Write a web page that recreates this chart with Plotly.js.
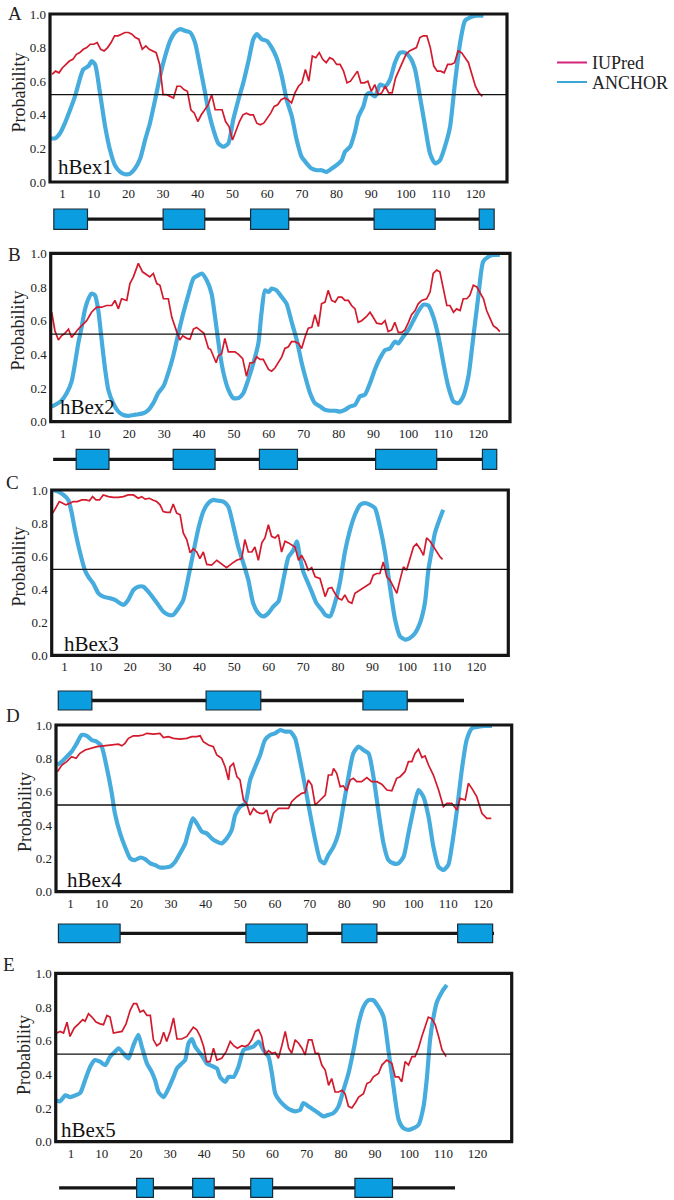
<!DOCTYPE html>
<html><head><meta charset="utf-8">
<script src="https://cdn.plot.ly/plotly-3.0.1.min.js"></script>
<style>html,body{margin:0;padding:0;background:#fff}#chart{width:674px;height:1200px}</style>
</head><body><div id="chart"></div>
<script>
// ---------------- data ----------------
const proteins = ['hBex1','hBex2','hBex3','hBex4','hBex5'];
const panelLetters = ['A','B','C','D','E'];
const residueTicks = [1,10,20,30,40,50,60,70,80,90,100,110,120];
const probTicks = [0,0.2,0.4,0.6,0.8,1.0];
const threshold = 0.52;

// hBex1
const aIupredX = Array.from({length:125}, (_, i) => i - 2);
const aIupredY = [0.64,0.66,0.65,0.68,0.70,0.72,0.73,0.76,0.77,0.79,
 0.80,0.82,0.82,0.83,0.79,0.78,0.80,0.83,0.87,0.87,
 0.88,0.89,0.89,0.88,0.86,0.85,0.79,0.81,0.79,0.78,
 0.77,0.70,0.52,0.52,0.51,0.50,0.57,0.57,0.55,0.54,
 0.43,0.41,0.36,0.40,0.43,0.46,0.52,0.43,0.43,0.43,
 0.36,0.33,0.25,0.31,0.36,0.40,0.41,0.40,0.40,0.35,
 0.34,0.35,0.38,0.41,0.45,0.46,0.49,0.50,0.49,0.47,
 0.53,0.57,0.59,0.67,0.60,0.75,0.74,0.77,0.73,0.71,
 0.74,0.73,0.70,0.70,0.66,0.59,0.60,0.63,0.66,0.59,
 0.59,0.60,0.54,0.58,0.52,0.53,0.57,0.53,0.53,0.62,
 0.67,0.72,0.76,0.78,0.79,0.80,0.86,0.87,0.87,0.80,
 0.69,0.66,0.66,0.65,0.70,0.70,0.71,0.78,0.77,0.74,
 0.71,0.64,0.57,0.53,0.51];
const aAnchorX = [-2.6,-1.1,0.3,1.7,3.2,4.6,6.1,7.0,8.5,9.4,10.4,11.8,13.3,14.7,16.1,17.6,19.0,20.5,21.9,23.4,
 24.8,26.2,27.7,29.1,30.6,32.0,33.4,34.9,36.3,37.8,39.2,40.6,42.1,43.0,44.5,45.9,47.4,48.8,50.2,51.7,
 53.1,54.6,56.0,57.0,58.4,59.9,61.3,62.7,64.2,65.6,67.1,68.5,69.9,71.4,72.8,74.3,75.7,77.1,78.6,80.0,
 81.5,82.4,83.9,85.3,86.3,87.7,88.7,89.6,91.1,92.5,94.0,95.4,96.8,98.3,99.7,101.2,102.6,104.0,105.5,106.9,
 108.4,109.8,111.2,112.7,114.1,115.6,117.0,118.5,120.4,122.3];
const aAnchorY = [0.26,0.26,0.29,0.35,0.43,0.51,0.62,0.67,0.69,0.72,0.70,0.53,0.33,0.19,0.10,0.06,0.046,0.05,0.08,0.14,
 0.25,0.35,0.49,0.63,0.75,0.84,0.89,0.91,0.90,0.89,0.83,0.69,0.53,0.43,0.31,0.23,0.21,0.23,0.37,0.49,
 0.59,0.72,0.85,0.88,0.85,0.84,0.80,0.74,0.63,0.49,0.39,0.25,0.15,0.11,0.08,0.07,0.07,0.06,0.08,0.10,
 0.13,0.18,0.21,0.30,0.39,0.45,0.52,0.53,0.51,0.58,0.57,0.61,0.71,0.77,0.77,0.74,0.67,0.51,0.33,0.17,
 0.11,0.13,0.21,0.33,0.59,0.83,0.96,0.98,0.99,0.99];
const aExonStart = [-1.5, 30.0, 55.2, 90.8, 121.1];
const aExonEnd   = [8.2, 42.0, 66.2, 108.4, 125.4];
const aLineSpan  = [8.2, 121.1];

// hBex2
const bIupredX = [-2.2,-1.3,-0.3,0.6,1.6,2.6,3.5,4.5,5.4,6.4,
 7.8,9.2,10.7,12.1,13.5,15.0,15.9,16.9,17.8,19.3,
 20.2,21.2,22.6,23.8,25.0,25.9,26.9,27.9,28.8,29.8,
 31.2,32.2,33.6,34.5,35.3,36.5,37.4,38.4,39.3,40.3,
 41.4,42.7,43.3,44.1,44.9,45.5,46.5,47.4,48.4,49.4,
 50.3,51.3,52.5,53.6,54.6,55.6,56.5,57.5,58.4,59.9,
 60.8,61.8,62.7,63.7,64.6,65.6,66.5,67.5,68.5,69.4,
 70.4,71.3,72.3,73.2,74.2,75.1,76.1,77.0,78.0,79.0,
 79.9,80.9,81.8,82.8,83.7,84.7,85.6,86.6,88.0,89.0,
 89.9,90.9,92.3,93.3,94.2,95.2,96.1,97.1,98.1,99.0,
 100.0,100.9,101.9,102.8,103.8,105.2,106.2,107.1,108.1,109.0,
 110.0,111.0,111.9,112.9,113.8,114.8,115.7,116.7,117.6,118.6,
 119.6,120.5,121.5,122.4,123.4,124.3,125.3,126.2];
const bIupredY = [0.65,0.54,0.485,0.51,0.525,0.55,0.50,0.53,0.55,0.57,
 0.60,0.65,0.68,0.68,0.69,0.69,0.72,0.67,0.73,0.72,
 0.82,0.86,0.94,0.89,0.87,0.86,0.88,0.82,0.81,0.73,
 0.73,0.62,0.535,0.485,0.51,0.495,0.49,0.55,0.56,0.545,
 0.525,0.435,0.43,0.39,0.35,0.39,0.405,0.495,0.415,0.415,
 0.415,0.40,0.375,0.27,0.35,0.35,0.385,0.37,0.37,0.31,
 0.30,0.32,0.355,0.385,0.435,0.445,0.475,0.475,0.465,0.435,
 0.505,0.555,0.56,0.635,0.565,0.70,0.71,0.78,0.72,0.71,
 0.74,0.74,0.72,0.72,0.69,0.67,0.59,0.60,0.625,0.65,
 0.62,0.585,0.58,0.60,0.535,0.545,0.59,0.53,0.53,0.545,
 0.59,0.635,0.66,0.70,0.72,0.73,0.77,0.88,0.90,0.89,
 0.79,0.69,0.69,0.65,0.67,0.66,0.73,0.73,0.75,0.81,
 0.80,0.77,0.73,0.66,0.61,0.57,0.555,0.535];
const bAnchorX = [-2.2,-0.8,0.6,2.1,3.5,4.5,5.4,6.4,7.3,8.3,
 9.2,10.2,11.1,12.1,13.1,14.0,15.4,16.9,18.3,19.7,
 21.2,22.6,24.0,25.5,26.9,28.3,29.8,31.2,32.6,34.1,
 35.5,36.9,38.4,39.8,40.8,42.2,43.6,44.6,46.0,47.0,
 48.4,49.8,51.3,52.7,54.1,55.6,57.0,57.9,58.9,59.9,
 60.8,62.2,63.7,65.1,66.5,68.0,69.4,70.4,71.8,73.2,
 74.7,76.1,77.5,79.0,80.4,81.8,83.2,84.7,86.1,87.5,
 89.0,90.4,91.8,93.3,94.7,96.1,97.1,98.5,100.0,101.4,
 102.8,104.3,105.7,107.1,108.6,110.0,111.4,112.9,114.3,115.7,
 117.2,118.6,120.0,121.4,122.9,124.3,126.2];
const bAnchorY = [0.09,0.105,0.125,0.17,0.24,0.35,0.465,0.565,0.665,0.73,
 0.76,0.75,0.665,0.485,0.31,0.19,0.11,0.06,0.04,0.034,
 0.04,0.044,0.05,0.07,0.11,0.17,0.21,0.29,0.39,0.525,
 0.645,0.75,0.85,0.87,0.88,0.84,0.76,0.62,0.405,0.29,
 0.19,0.14,0.14,0.17,0.25,0.35,0.465,0.645,0.78,0.77,
 0.79,0.78,0.74,0.70,0.595,0.485,0.35,0.27,0.17,0.11,
 0.09,0.07,0.065,0.065,0.06,0.07,0.09,0.10,0.15,0.16,
 0.23,0.31,0.375,0.425,0.435,0.475,0.465,0.505,0.545,0.60,
 0.655,0.695,0.69,0.625,0.505,0.35,0.21,0.12,0.11,0.15,
 0.27,0.505,0.74,0.95,0.98,0.99,0.99];
const bExonStart = [4.8, 32.6, 57.3, 90.6, 121.2];
const bExonEnd   = [14.2, 44.6, 68.2, 108.1, 125.3];
const bLineSpan  = [-1.8, 125.3];

// hBex3
const cIupredX = [-2.4,-1.5,-0.5,0.5,1.4,2.6,3.5,4.7,6.0,7.2,
 8.2,9.1,10.1,11.1,12.2,13.7,15.1,16.5,18.0,19.4,
 20.9,22.3,23.3,24.3,25.5,26.5,27.6,28.6,29.5,30.5,
 31.5,32.4,33.4,34.4,35.3,36.3,37.3,38.2,39.2,40.1,
 41.1,42.1,43.5,45.0,46.4,47.8,49.3,50.7,52.2,53.1,
 54.1,55.1,56.0,57.0,58.0,58.9,59.9,60.8,61.8,62.8,
 63.7,64.7,65.7,66.6,67.6,68.6,69.5,70.5,71.4,72.4,
 73.4,74.8,76.3,77.2,78.2,79.1,80.1,81.1,82.0,83.0,
 84.0,84.9,86.4,87.8,89.3,90.2,91.2,92.1,93.1,94.1,
 95.0,96.0,97.0,97.9,98.9,99.8,100.8,101.8,102.7,103.7,
 104.7,105.6,106.6,107.6,108.5,109.5,110.2];
const cIupredY = [0.86,0.895,0.93,0.92,0.91,0.92,0.93,0.93,0.94,0.94,
 0.935,0.96,0.94,0.94,0.97,0.96,0.955,0.955,0.96,0.97,
 0.97,0.95,0.96,0.945,0.95,0.94,0.93,0.91,0.87,0.865,
 0.865,0.915,0.86,0.85,0.74,0.70,0.62,0.645,0.625,0.585,
 0.625,0.55,0.545,0.575,0.555,0.53,0.555,0.575,0.585,0.70,
 0.625,0.625,0.655,0.575,0.68,0.71,0.79,0.72,0.71,0.73,
 0.625,0.69,0.68,0.67,0.655,0.575,0.605,0.565,0.515,0.53,
 0.475,0.465,0.355,0.405,0.41,0.375,0.345,0.335,0.365,0.325,
 0.315,0.375,0.395,0.415,0.435,0.485,0.495,0.495,0.565,0.475,
 0.455,0.415,0.375,0.455,0.535,0.515,0.585,0.655,0.675,0.645,
 0.605,0.71,0.69,0.655,0.625,0.595,0.58];
const cAnchorX = [-2.4,-0.8,0.7,2.1,3.1,4.0,5.5,6.9,7.9,9.3,
 10.8,12.2,14.1,15.6,17.0,18.0,19.4,20.9,22.3,23.8,
 25.2,26.7,28.1,29.5,31.0,32.4,33.9,35.3,36.8,38.2,
 39.7,41.1,42.5,44.0,45.4,46.9,48.3,49.8,51.2,52.7,
 54.1,55.5,57.0,58.4,59.9,61.3,62.8,64.2,65.7,67.1,
 68.1,69.0,70.0,71.4,72.4,73.8,75.3,76.3,77.7,79.1,
 80.6,82.0,83.5,84.9,86.4,87.8,89.3,90.7,92.1,93.6,
 95.0,96.5,97.9,99.4,100.8,102.3,103.7,105.1,106.1,107.1,
 108.0,109.3,110.4];
const cAnchorY = [1.0,0.99,0.97,0.94,0.86,0.76,0.62,0.515,0.475,0.435,
 0.375,0.355,0.345,0.335,0.315,0.305,0.335,0.395,0.415,0.415,
 0.385,0.345,0.305,0.265,0.245,0.245,0.285,0.335,0.475,0.62,
 0.77,0.87,0.92,0.94,0.935,0.93,0.90,0.78,0.655,0.555,
 0.455,0.315,0.255,0.235,0.255,0.295,0.325,0.455,0.595,0.635,
 0.69,0.595,0.505,0.435,0.385,0.315,0.275,0.245,0.235,0.315,
 0.445,0.625,0.76,0.85,0.91,0.92,0.91,0.89,0.78,0.62,
 0.415,0.215,0.115,0.095,0.105,0.135,0.195,0.315,0.515,0.635,
 0.74,0.82,0.88];
const cExonStart = [-0.8, 41.9, 87.2];
const cExonEnd   = [8.9, 57.7, 100.0];
const cLineSpan  = [-0.8, 116.4];

// hBex4
const dIupredX = [-2.8,-1.5,-0.1,1.3,2.6,3.7,5.2,6.6,8.6,10.5,
 12.4,13.8,14.8,15.8,16.7,17.7,19.1,20.6,22.0,23.0,
 24.9,26.8,27.8,29.2,30.7,32.6,34.5,36.0,37.4,38.4,
 39.3,40.8,42.2,43.2,44.6,45.6,46.6,47.0,48.0,49.0,
 49.9,50.9,51.8,52.8,53.8,54.7,55.7,56.7,57.6,58.6,
 59.5,61.0,62.4,63.9,64.8,66.3,67.7,68.7,69.6,70.6,
 71.6,72.5,73.5,74.5,75.4,76.4,76.9,77.8,78.8,79.7,
 80.7,81.7,82.6,83.6,85.0,86.5,87.9,89.4,90.8,92.3,
 93.7,95.1,96.1,97.5,98.5,99.5,100.4,101.4,102.4,103.3,
 104.3,105.7,107.2,108.6,109.6,111.0,112.5,113.4,114.9,115.8,
 116.8,118.2,119.7,121.1,122.4];
const dIupredY = [0.72,0.76,0.78,0.81,0.80,0.83,0.85,0.86,0.87,0.875,
 0.88,0.88,0.885,0.875,0.89,0.92,0.935,0.935,0.94,0.95,
 0.945,0.95,0.925,0.93,0.92,0.915,0.92,0.93,0.93,0.935,
 0.90,0.88,0.87,0.82,0.80,0.75,0.67,0.75,0.77,0.69,
 0.67,0.55,0.53,0.46,0.50,0.48,0.47,0.47,0.49,0.41,
 0.47,0.50,0.50,0.50,0.54,0.57,0.59,0.595,0.67,0.64,
 0.52,0.54,0.56,0.58,0.70,0.70,0.74,0.71,0.63,0.635,
 0.605,0.67,0.68,0.66,0.66,0.685,0.66,0.66,0.645,0.61,
 0.605,0.68,0.69,0.72,0.78,0.78,0.83,0.855,0.805,0.815,
 0.76,0.70,0.61,0.51,0.53,0.53,0.49,0.56,0.55,0.65,
 0.62,0.57,0.47,0.44,0.44];
const dAnchorX = [-2.8,-1.5,-0.1,1.3,2.8,4.2,5.7,7.1,8.6,10.0,
 11.4,12.9,13.8,15.3,16.7,18.2,19.6,21.1,22.5,24.0,
 25.4,26.8,28.3,29.7,31.2,32.6,34.1,35.3,36.3,37.4,
 38.9,40.3,41.7,43.2,44.6,46.1,47.5,48.5,49.9,51.4,
 52.8,54.3,55.7,57.1,58.6,60.0,61.5,62.9,64.4,65.8,
 67.2,68.7,70.1,71.6,73.0,74.2,75.4,76.9,78.3,79.7,
 81.2,82.6,84.1,85.5,87.0,88.4,89.8,91.3,92.7,94.2,
 95.6,97.1,98.5,99.9,101.4,102.8,104.3,105.7,107.2,108.6,
 110.0,111.0,112.5,113.9,115.3,116.8,118.7,120.6,122.6];
const dAnchorY = [0.76,0.78,0.81,0.84,0.89,0.94,0.935,0.91,0.90,0.87,
 0.75,0.59,0.47,0.35,0.27,0.20,0.19,0.205,0.195,0.17,
 0.16,0.145,0.145,0.15,0.18,0.23,0.29,0.38,0.44,0.41,
 0.36,0.35,0.32,0.30,0.29,0.32,0.37,0.46,0.51,0.53,
 0.67,0.75,0.82,0.91,0.94,0.95,0.97,0.96,0.96,0.92,
 0.79,0.63,0.47,0.31,0.19,0.17,0.22,0.27,0.35,0.51,
 0.69,0.83,0.87,0.85,0.83,0.69,0.49,0.29,0.19,0.17,
 0.17,0.21,0.35,0.49,0.61,0.57,0.45,0.27,0.15,0.13,
 0.16,0.27,0.49,0.73,0.91,0.98,0.99,0.995,0.995];
const dExonStart = [-2.5, 51.6, 79.3, 112.7];
const dExonEnd   = [15.3, 69.3, 89.4, 122.8];
const dLineSpan  = [-2.5, 123.2];

// hBex5
const eIupredX = [-3.2,-2.2,-1.2,-0.2,0.7,1.9,3.2,4.4,5.1,6.1,
 7.1,8.3,9.5,10.5,11.5,12.4,13.4,14.9,15.9,17.1,
 18.3,19.3,20.2,21.2,22.2,23.2,24.2,25.1,26.1,27.1,
 28.1,29.0,30.0,31.0,32.0,33.4,34.9,35.9,36.8,37.8,
 38.8,39.8,40.7,41.7,42.7,43.7,45.1,46.4,47.6,48.6,
 49.7,51.0,52.0,52.9,53.9,54.9,55.9,56.8,57.8,58.8,
 59.8,60.8,61.7,62.7,63.7,64.7,65.6,66.6,67.6,68.6,
 69.5,70.5,71.5,72.5,73.4,74.4,75.4,76.4,77.3,78.3,
 79.3,80.3,81.2,82.2,83.2,84.2,85.2,86.6,87.6,88.6,
 89.5,91.0,92.0,93.4,94.9,95.9,96.9,97.8,98.8,99.8,
 100.8,101.7,102.7,103.7,104.7,105.6,106.6,107.6,108.6,109.6,
 110.8];
const eIupredY = [0.645,0.655,0.645,0.71,0.625,0.675,0.70,0.725,0.715,0.76,
 0.74,0.71,0.70,0.695,0.75,0.74,0.645,0.65,0.655,0.70,
 0.78,0.82,0.82,0.77,0.78,0.75,0.75,0.605,0.57,0.585,
 0.65,0.595,0.655,0.735,0.61,0.61,0.625,0.655,0.68,0.665,
 0.625,0.565,0.475,0.475,0.555,0.485,0.495,0.535,0.595,0.57,
 0.555,0.57,0.565,0.575,0.605,0.655,0.665,0.625,0.515,0.54,
 0.525,0.53,0.495,0.57,0.655,0.555,0.525,0.605,0.585,0.555,
 0.515,0.605,0.605,0.525,0.525,0.455,0.425,0.335,0.375,0.295,
 0.295,0.305,0.285,0.21,0.20,0.23,0.265,0.285,0.345,0.355,
 0.385,0.405,0.455,0.485,0.465,0.385,0.385,0.355,0.475,0.455,
 0.505,0.505,0.555,0.625,0.685,0.74,0.73,0.695,0.625,0.545,
 0.505];
const eAnchorX = [-3.2,-2.2,-0.7,0.7,2.2,3.7,5.1,6.6,8.0,9.5,
 11.0,12.4,13.9,14.9,16.3,17.8,19.3,20.7,21.7,23.2,
 24.6,25.6,26.6,28.1,29.5,31.0,32.0,33.4,34.4,35.4,
 36.4,37.3,38.8,39.8,40.7,42.2,43.7,44.6,46.1,47.1,
 48.6,50.0,51.5,52.9,54.4,55.9,57.3,58.8,59.8,60.8,
 62.2,63.7,65.1,66.6,68.1,69.0,70.5,72.0,73.4,74.9,
 76.4,77.8,79.3,80.8,82.2,83.7,85.2,86.6,88.1,89.5,
 91.0,92.5,93.9,95.4,96.9,98.3,99.8,101.3,102.7,104.2,
 105.2,106.1,107.1,108.1,109.6,111.0];
const eAnchorY = [0.245,0.24,0.275,0.265,0.275,0.29,0.365,0.445,0.485,0.475,
 0.455,0.505,0.535,0.555,0.525,0.495,0.575,0.635,0.565,0.465,
 0.415,0.365,0.295,0.265,0.315,0.385,0.435,0.465,0.485,0.585,
 0.61,0.565,0.525,0.495,0.465,0.45,0.435,0.385,0.355,0.385,
 0.385,0.445,0.545,0.555,0.565,0.595,0.545,0.505,0.405,0.285,
 0.24,0.21,0.19,0.18,0.19,0.23,0.21,0.19,0.17,0.15,
 0.16,0.17,0.21,0.31,0.405,0.545,0.705,0.80,0.84,0.84,
 0.80,0.74,0.545,0.325,0.13,0.08,0.07,0.08,0.10,0.21,
 0.385,0.605,0.74,0.83,0.89,0.93];
const eExonStart = [20.2, 36.6, 53.6, 84.1];
const eExonEnd   = [25.1, 42.9, 60.0, 95.1];
const eLineSpan  = [-2.5, 113.4];

// ---------------- layout geometry (page pixels) ----------------
const W = 674, H = 1200;
const px = v => v / W, py = v => 1 - v / H;
const panels = [
  {iuX:aIupredX, iuY:aIupredY, anX:aAnchorX, anY:aAnchorY, exS:aExonStart, exE:aExonEnd, span:aLineSpan,
   l:50, r:507, t:14, b:182, range:[-2.6,129.1], gene:[209,229.3], letter:[15,13], name:[56,167], ytitle:[18.5,93]},
  {iuX:bIupredX, iuY:bIupredY, anX:bAnchorX, anY:bAnchorY, exS:bExonStart, exE:bExonEnd, span:bLineSpan,
   l:50.7, r:510, t:253.3, b:421.7, range:[-2.5,129.1], gene:[449.3,469.3], letter:[14,254], name:[58,407], ytitle:[17.5,331]},
  {iuX:cIupredX, iuY:cIupredY, anX:cAnchorX, anY:cAnchorY, exS:cExonStart, exE:cExonEnd, span:cLineSpan,
   l:51.7, r:508.3, t:490, b:655.3, range:[-2.7,129.2], gene:[691,710], letter:[12.5,482.5], name:[62,644], ytitle:[18.5,567]},
  {iuX:dIupredX, iuY:dIupredY, anX:dAnchorX, anY:dAnchorY, exS:dExonStart, exE:dExonEnd, span:dLineSpan,
   l:56, r:511.7, t:725, b:891.7, range:[-3.2,128.3], gene:[924,942.7], letter:[13,715], name:[65,880], ytitle:[25,812]},
  {iuX:eIupredX, iuY:eIupredY, anX:eAnchorX, anY:eAnchorY, exS:eExonStart, exE:eExonEnd, span:eLineSpan,
   l:55.7, r:511.7, t:973.3, b:1141.7, range:[-3.5,130.0], gene:[1178.3,1197.3], letter:[9,964], name:[59,1130], ytitle:[24,1055]}
];

const RED = '#d31a2d', BLUE = '#46acde', SERIF = "'Liberation Serif', 'Times New Roman', 'DejaVu Serif', serif";
const traces = [], shapes = [], annotations = [];
const layout = {
  width: W, height: H, margin:{l:0,r:0,t:0,b:0},
  paper_bgcolor:'#fff', plot_bgcolor:'#fff', showlegend:true,
  font:{family:SERIF, color:'#222'},
  legend:{x:px(552), y:py(62.7), xanchor:'left', yanchor:'middle', bgcolor:'rgba(0,0,0,0)',
          font:{family:SERIF, size:18, color:'#222'}, borderwidth:0},
  legend2:{x:px(552), y:py(82.3), xanchor:'left', yanchor:'middle', bgcolor:'rgba(0,0,0,0)',
          font:{family:SERIF, size:18, color:'#222'}, borderwidth:0}
};

panels.forEach((p, i) => {
  const n = i === 0 ? '' : String(i + 1);
  const xa = 'x' + n, ya = 'y' + n;
  layout['xaxis' + n] = {
    domain:[px(p.l), px(p.r)], range:p.range, anchor:ya, showgrid:false, zeroline:false,
    showline:false, ticks:'', tickmode:'array', tickvals:residueTicks, ticktext:residueTicks.map(String),
    tickfont:{family:SERIF, size:13, color:'#222'}, ticklabelstandoff:2, fixedrange:true
  };
  layout['yaxis' + n] = {
    domain:[py(p.b), py(p.t)], range:[0,1], anchor:xa, showgrid:false, zeroline:false,
    showline:false, ticks:'', tickmode:'array', tickvals:probTicks, ticktext:probTicks.map(v => v.toFixed(1)),
    tickfont:{family:SERIF, size:13, color:'#222'}, ticklabelstandoff:3, fixedrange:true
  };
  traces.push({x:p.anX, y:p.anY, xaxis:xa, yaxis:ya, mode:'lines', name:'ANCHOR', showlegend:false,
               line:{color:BLUE, width:4.2, shape:'spline', smoothing:0.6}, hoverinfo:'skip'});
  traces.push({x:p.iuX, y:p.iuY, xaxis:xa, yaxis:ya, mode:'lines', name:'IUPred', showlegend:false,
               line:{color:RED, width:1.7}, hoverinfo:'skip'});
  // frame
  shapes.push({type:'rect', xref:xa + ' domain', yref:ya + ' domain', x0:0, x1:1, y0:0, y1:1,
               line:{color:'#151515', width:3.2}, layer:'above'});
  // threshold
  shapes.push({type:'line', xref:xa + ' domain', yref:ya, x0:0, x1:1, y0:threshold, y1:threshold,
               line:{color:'#111', width:1.4}, layer:'above'});
  // gene structure
  const gy = (p.gene[0] + p.gene[1]) / 2;
  shapes.push({type:'line', xref:xa, yref:'paper', x0:p.span[0], x1:p.span[1], y0:py(gy), y1:py(gy),
               line:{color:'#161616', width:3.3}});
  p.exS.forEach((s, k) => {
    shapes.push({type:'rect', xref:xa, yref:'paper', x0:s, x1:p.exE[k], y0:py(p.gene[1]), y1:py(p.gene[0]),
                 fillcolor:'#0a9de0', line:{color:'#1c2a35', width:1.2}});
  });
  annotations.push({xref:'paper', yref:'paper', x:px(p.letter[0]), y:py(p.letter[1]), text:panelLetters[i],
                    showarrow:false, xanchor:'center', yanchor:'middle', font:{family:SERIF, size:19, color:'#222'}});
  annotations.push({xref:'paper', yref:'paper', x:px(p.name[0]), y:py(p.name[1]), text:proteins[i],
                    showarrow:false, xanchor:'left', yanchor:'middle', font:{family:SERIF, size:21, color:'#111'}});
  annotations.push({xref:'paper', yref:'paper', x:px(p.ytitle[0]), y:py(p.ytitle[1]), text:'Probability',
                    textangle:-90, showarrow:false, xanchor:'center', yanchor:'middle',
                    font:{family:SERIF, size:18, color:'#222'}});
});

// legend keys
traces.push({x:[null], y:[null], xaxis:'x', yaxis:'y', mode:'lines', name:'IUPred', legend:'legend',
             line:{color:'#d4247c', width:2}, hoverinfo:'skip'});
traces.push({x:[null], y:[null], xaxis:'x', yaxis:'y', mode:'lines', name:'ANCHOR', legend:'legend2',
             line:{color:'#3ba8d8', width:2}, hoverinfo:'skip'});

layout.shapes = shapes;
layout.annotations = annotations;
Plotly.newPlot('chart', traces, layout, {staticPlot:true, displayModeBar:false});
</script>
</body></html>
